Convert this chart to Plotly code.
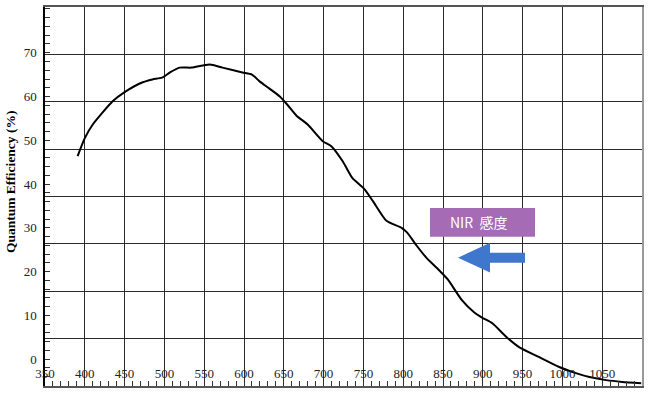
import plotly.graph_objects as go

# Data
wavelength = [391, 400, 410, 435, 450, 472, 485, 497, 507, 519, 534, 557, 573, 598, 610,
              620, 632, 645, 655, 666, 680, 699, 710, 724, 736, 751, 762, 779, 798, 805,
              817, 829, 843, 856, 874, 889, 899, 912, 930, 946, 971, 996, 1017, 1034,
              1055, 1075, 1099]
qe = [46.4, 50.5, 53.6, 58.9, 61.0, 63.2, 63.9, 64.3, 65.5, 66.6, 66.6, 67.3, 66.6, 65.5, 65.0,
      63.4, 61.8, 60.0, 58.0, 55.6, 53.6, 49.8, 48.6, 45.2, 41.4, 38.9, 36.1, 31.6, 30.0, 28.9,
      25.9, 23.2, 20.7, 18.2, 13.4, 10.7, 9.5, 8.2, 5.0, 2.7, 0.45, -1.8, -3.2, -4.1,
      -4.8, -5.2, -5.5]

x_ticks = list(range(350, 1051, 50))
y_ticks = list(range(0, 71, 10))
y_title = "Quantum Efficiency (%)"
note_text = "NIR&nbsp;&nbsp;感度"

W, H = 650, 396
L, R, T, B = 45, 8, 5, 10
PW, PH = W - L - R, H - T - B

def px(xpix):
    return (xpix - L) / PW

def py(ypix):
    return (H - B - ypix) / PH

SERIF = "Liberation Serif, Times New Roman, serif"

fig = go.Figure()
fig.add_trace(go.Scatter(x=wavelength, y=qe, mode="lines",
                         line=dict(color="black", width=2, shape="spline", smoothing=0.6),
                         showlegend=False, hoverinfo="skip"))
# invisible trace to activate the grid axis
fig.add_trace(go.Scatter(x=[350], y=[0], yaxis="y2", mode="markers",
                         marker=dict(opacity=0), showlegend=False, hoverinfo="skip"))

tickfont = dict(family=SERIF, size=13, color="#222")

fig.update_layout(
    width=W, height=H,
    margin=dict(l=L, r=R, t=T, b=B),
    paper_bgcolor="white", plot_bgcolor="white",
    xaxis=dict(range=[350, 1100], tickvals=x_ticks, ticktext=[str(v) for v in x_ticks],
               showgrid=True, gridcolor="#2a2a2a", gridwidth=1.2,
               zeroline=False, showline=True, linecolor="#555", linewidth=1.5, mirror=True,
               ticks="inside", ticklen=5, tickcolor="#333",
               minor=dict(dtick=10, ticks="inside", ticklen=5, tickcolor="#333", showgrid=False),
               ticklabelposition="inside", ticklabeloverflow="allow",
               tickfont=tickfont),
    yaxis=dict(range=[-6.14, 80.45], tickvals=y_ticks, showgrid=False, zeroline=False,
               showline=True, linecolor="black", linewidth=1.5,
               ticks="inside", ticklen=5, tickcolor="#333",
               minor=dict(dtick=2, ticks="inside", ticklen=5, tickcolor="#333", showgrid=False),
               tickfont=tickfont, ticklabelstandoff=4),
    yaxis2=dict(range=[0, 8], dtick=1, overlaying="y", side="right", showgrid=True,
                gridcolor="#2a2a2a", gridwidth=1.2, showticklabels=False, ticks="",
                zeroline=False, showline=True, linecolor="#999", linewidth=1.5),
)

fig.add_annotation(text="<b>" + y_title + "</b>", xref="paper", yref="paper",
                   x=px(10), y=py(181), textangle=-90, showarrow=False,
                   font=dict(family=SERIF, size=13.5, color="black"),
                   xanchor="center", yanchor="middle")

# NIR label box
fig.add_shape(type="rect", xref="paper", yref="paper",
              x0=px(430), x1=px(535), y0=py(236), y1=py(207),
              fillcolor="#A56BB5", line=dict(width=0), layer="above")
fig.add_annotation(text=note_text, xref="paper", yref="paper", x=px(478), y=py(221),
                   showarrow=False, font=dict(family="Noto Sans CJK JP", size=14, color="white"),
                   xanchor="center", yanchor="middle")

# Left-pointing block arrow
pts = [(458, 257), (490, 242), (490, 252), (525, 252), (525, 262), (490, 262), (490, 272)]
path = "M " + " L ".join(f"{px(a):.5f},{py(b):.5f}" for a, b in pts) + " Z"
fig.add_shape(type="path", xref="paper", yref="paper", path=path,
              fillcolor="#3F77CC", line=dict(width=0), layer="above")

fig.write_html("out.html")
